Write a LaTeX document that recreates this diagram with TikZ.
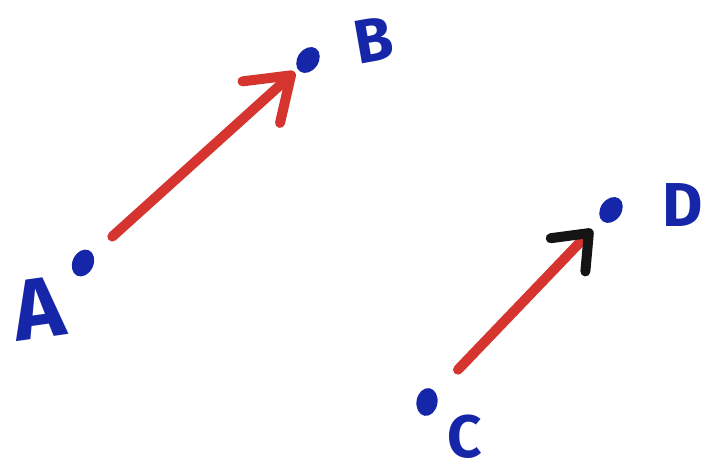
\documentclass[tikz,border=0pt]{standalone}
\usepackage{fontspec}
\setmainfont{Fira Sans}
\usetikzlibrary{arrows.meta,shapes.geometric}
\definecolor{mblue}{RGB}{22,38,168}
\definecolor{mred}{RGB}{214,52,46}
\definecolor{mblack}{RGB}{20,20,20}
\tikzset{
  x=1pt,y=-1pt,
  dotnode/.style={ellipse,fill=mblue,draw=none,minimum width=21pt,minimum height=28pt,inner sep=0pt},
  lettr/.style={text=mblue,font=\fontsize{#1}{#1}\selectfont\bfseries,inner sep=0pt},
  vec/.style={draw=mred,line width=10pt,line cap=round},
}
\begin{document}
\begin{tikzpicture}
\useasboundingbox (0,0) rectangle (705,473);
% points
\node[dotnode,rotate=-25] (A) at (83,263) {};
\node[dotnode,rotate=-35] (B) at (308,60) {};
\node[dotnode,rotate=-10] (C) at (427,402) {};
\node[dotnode,rotate=-35] (D) at (611,210) {};
% labels
\node[lettr=86pt,rotate=8] (la) at (38,308) {A};
\node[lettr=62pt,rotate=10] (lb) at (374,40) {B};
\node[lettr=60pt] (lc) at (465,437) {C};
\node[lettr=62pt] (ld) at (683,205) {D};
% vectors
\draw[vec,shorten <=26pt,shorten >=4pt,
  -{Straight Barb[length=40pt,width=56pt,round]}] (A) -- (B);
\draw[vec,shorten <=32pt,shorten >=13pt,
  -{Straight Barb[length=30pt,width=48pt,round,color=mblack]}] (C) -- (D);
\end{tikzpicture}
\end{document}
